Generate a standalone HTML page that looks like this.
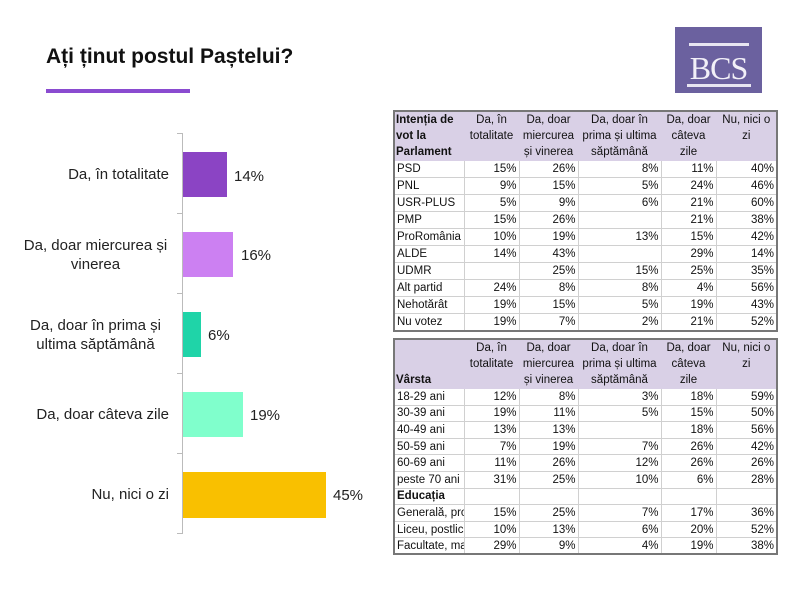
<!DOCTYPE html>
<html><head><meta charset="utf-8"><style>
body{margin:0;width:800px;height:599px;background:#fff;position:relative;overflow:hidden;font-family:"Liberation Sans",sans-serif;}
.a{position:absolute}
.lbl{position:absolute;left:22px;width:147px;text-align:center;font-size:15px;color:#222;line-height:19px}
.lbl.r{text-align:right}
.val{position:absolute;font-size:15px;color:#222}
table{position:absolute;border-collapse:collapse;font-family:"Liberation Sans","DejaVu Sans",sans-serif;font-size:11.5px;color:#111;table-layout:fixed}
td{border:1px solid #d0d0d0;padding:0 2px;text-align:right;overflow:hidden;white-space:nowrap;}
td:first-child{text-align:left}
tr.h td{background:#d9d0e6;text-align:center;vertical-align:top;white-space:normal;line-height:16px;border-color:#d9d0e6;padding:0 1px}
tr.h td:first-child{text-align:left;font-weight:bold}
.t{border:2px solid #777}
</style></head><body>
<div class="a" style="left:46px;top:45px;font-size:21px;font-weight:bold;color:#111">Ați ținut postul Paștelui?</div>
<div class="a" style="left:46px;top:89px;width:144px;height:4px;background:#8a4bd0"></div>
<div class="a" style="left:675px;top:27px;width:87px;height:66px;background:#6b619f"></div>
<div class="a" style="left:689px;top:43px;width:60px;height:3px;background:#e8e6f2"></div>
<div class="a" style="left:681px;top:50px;width:75px;font-family:'Liberation Serif',serif;font-size:32px;color:#f2f0f8;text-align:center;letter-spacing:-1px">BCS</div>
<div class="a" style="left:687px;top:84px;width:64px;height:3px;background:#e8e6f2"></div>

<div class="a" style="left:182px;top:133px;width:1px;height:400px;background:#bbb"></div>
<div class="a" style="left:177px;top:133px;width:6px;height:1px;background:#bbb"></div>
<div class="a" style="left:177px;top:213px;width:6px;height:1px;background:#bbb"></div>
<div class="a" style="left:177px;top:293px;width:6px;height:1px;background:#bbb"></div>
<div class="a" style="left:177px;top:373px;width:6px;height:1px;background:#bbb"></div>
<div class="a" style="left:177px;top:453px;width:6px;height:1px;background:#bbb"></div>
<div class="a" style="left:177px;top:533px;width:6px;height:1px;background:#bbb"></div>

<div class="a" style="left:183px;top:152px;width:44px;height:45px;background:#8b44c4"></div>
<div class="a" style="left:183px;top:232px;width:50px;height:45px;background:#cc80f2"></div>
<div class="a" style="left:183px;top:312px;width:18px;height:45px;background:#1fd4a8"></div>
<div class="a" style="left:183px;top:392px;width:60px;height:45px;background:#80ffcc"></div>
<div class="a" style="left:183px;top:472px;width:143px;height:46px;background:#f9c000"></div>

<div class="lbl r" style="top:165px">Da, în totalitate</div>
<div class="lbl" style="top:236px">Da, doar miercurea și vinerea</div>
<div class="lbl" style="top:316px">Da, doar în prima și ultima săptămână</div>
<div class="lbl r" style="top:405px">Da, doar câteva zile</div>
<div class="lbl r" style="top:485px">Nu, nici o zi</div>
<div class="val" style="left:234px;top:168px">14%</div>
<div class="val" style="left:241px;top:247px">16%</div>
<div class="val" style="left:208px;top:327px">6%</div>
<div class="val" style="left:250px;top:407px">19%</div>
<div class="val" style="left:333px;top:487px">45%</div>

<table class="t" style="left:393px;top:110px;width:384px">
<colgroup><col style="width:70px"><col style="width:55px"><col style="width:59px"><col style="width:83px"><col style="width:55px"><col style="width:61px"></colgroup>
<tr class="h" style="height:48px"><td>Intenția de vot la Parlament</td><td>Da, în totalitate</td><td>Da, doar miercurea și vinerea</td><td>Da, doar în prima și ultima săptămână</td><td>Da, doar câteva zile</td><td>Nu, nici o zi</td></tr>
<tr style="height:17px"><td>PSD</td><td>15%</td><td>26%</td><td>8%</td><td>11%</td><td>40%</td></tr>
<tr style="height:17px"><td>PNL</td><td>9%</td><td>15%</td><td>5%</td><td>24%</td><td>46%</td></tr>
<tr style="height:17px"><td>USR-PLUS</td><td>5%</td><td>9%</td><td>6%</td><td>21%</td><td>60%</td></tr>
<tr style="height:17px"><td>PMP</td><td>15%</td><td>26%</td><td></td><td>21%</td><td>38%</td></tr>
<tr style="height:17px"><td>ProRomânia</td><td>10%</td><td>19%</td><td>13%</td><td>15%</td><td>42%</td></tr>
<tr style="height:17px"><td>ALDE</td><td>14%</td><td>43%</td><td></td><td>29%</td><td>14%</td></tr>
<tr style="height:17px"><td>UDMR</td><td></td><td>25%</td><td>15%</td><td>25%</td><td>35%</td></tr>
<tr style="height:17px"><td>Alt partid</td><td>24%</td><td>8%</td><td>8%</td><td>4%</td><td>56%</td></tr>
<tr style="height:17px"><td>Nehotărât</td><td>19%</td><td>15%</td><td>5%</td><td>19%</td><td>43%</td></tr>
<tr style="height:17px"><td>Nu votez</td><td>19%</td><td>7%</td><td>2%</td><td>21%</td><td>52%</td></tr>
</table>

<table class="t" style="left:393px;top:338px;width:384px">
<colgroup><col style="width:70px"><col style="width:55px"><col style="width:59px"><col style="width:83px"><col style="width:55px"><col style="width:61px"></colgroup>
<tr class="h" style="height:48px"><td style="vertical-align:bottom">Vârsta</td><td>Da, în totalitate</td><td>Da, doar miercurea și vinerea</td><td>Da, doar în prima și ultima săptămână</td><td>Da, doar câteva zile</td><td>Nu, nici o zi</td></tr>
<tr style="height:16.6px"><td>18-29 ani</td><td>12%</td><td>8%</td><td>3%</td><td>18%</td><td>59%</td></tr>
<tr style="height:16.6px"><td>30-39 ani</td><td>19%</td><td>11%</td><td>5%</td><td>15%</td><td>50%</td></tr>
<tr style="height:16.6px"><td>40-49 ani</td><td>13%</td><td>13%</td><td></td><td>18%</td><td>56%</td></tr>
<tr style="height:16.6px"><td>50-59 ani</td><td>7%</td><td>19%</td><td>7%</td><td>26%</td><td>42%</td></tr>
<tr style="height:16.6px"><td>60-69 ani</td><td>11%</td><td>26%</td><td>12%</td><td>26%</td><td>26%</td></tr>
<tr style="height:16.6px"><td>peste 70 ani</td><td>31%</td><td>25%</td><td>10%</td><td>6%</td><td>28%</td></tr>
<tr style="height:16.6px"><td style="font-weight:bold">Educația</td><td></td><td></td><td></td><td></td><td></td></tr>
<tr style="height:16.6px"><td>Generală, profesională</td><td>15%</td><td>25%</td><td>7%</td><td>17%</td><td>36%</td></tr>
<tr style="height:16.6px"><td>Liceu, postliceală</td><td>10%</td><td>13%</td><td>6%</td><td>20%</td><td>52%</td></tr>
<tr style="height:16.6px"><td>Facultate, master</td><td>29%</td><td>9%</td><td>4%</td><td>19%</td><td>38%</td></tr>
</table>
</body></html>
